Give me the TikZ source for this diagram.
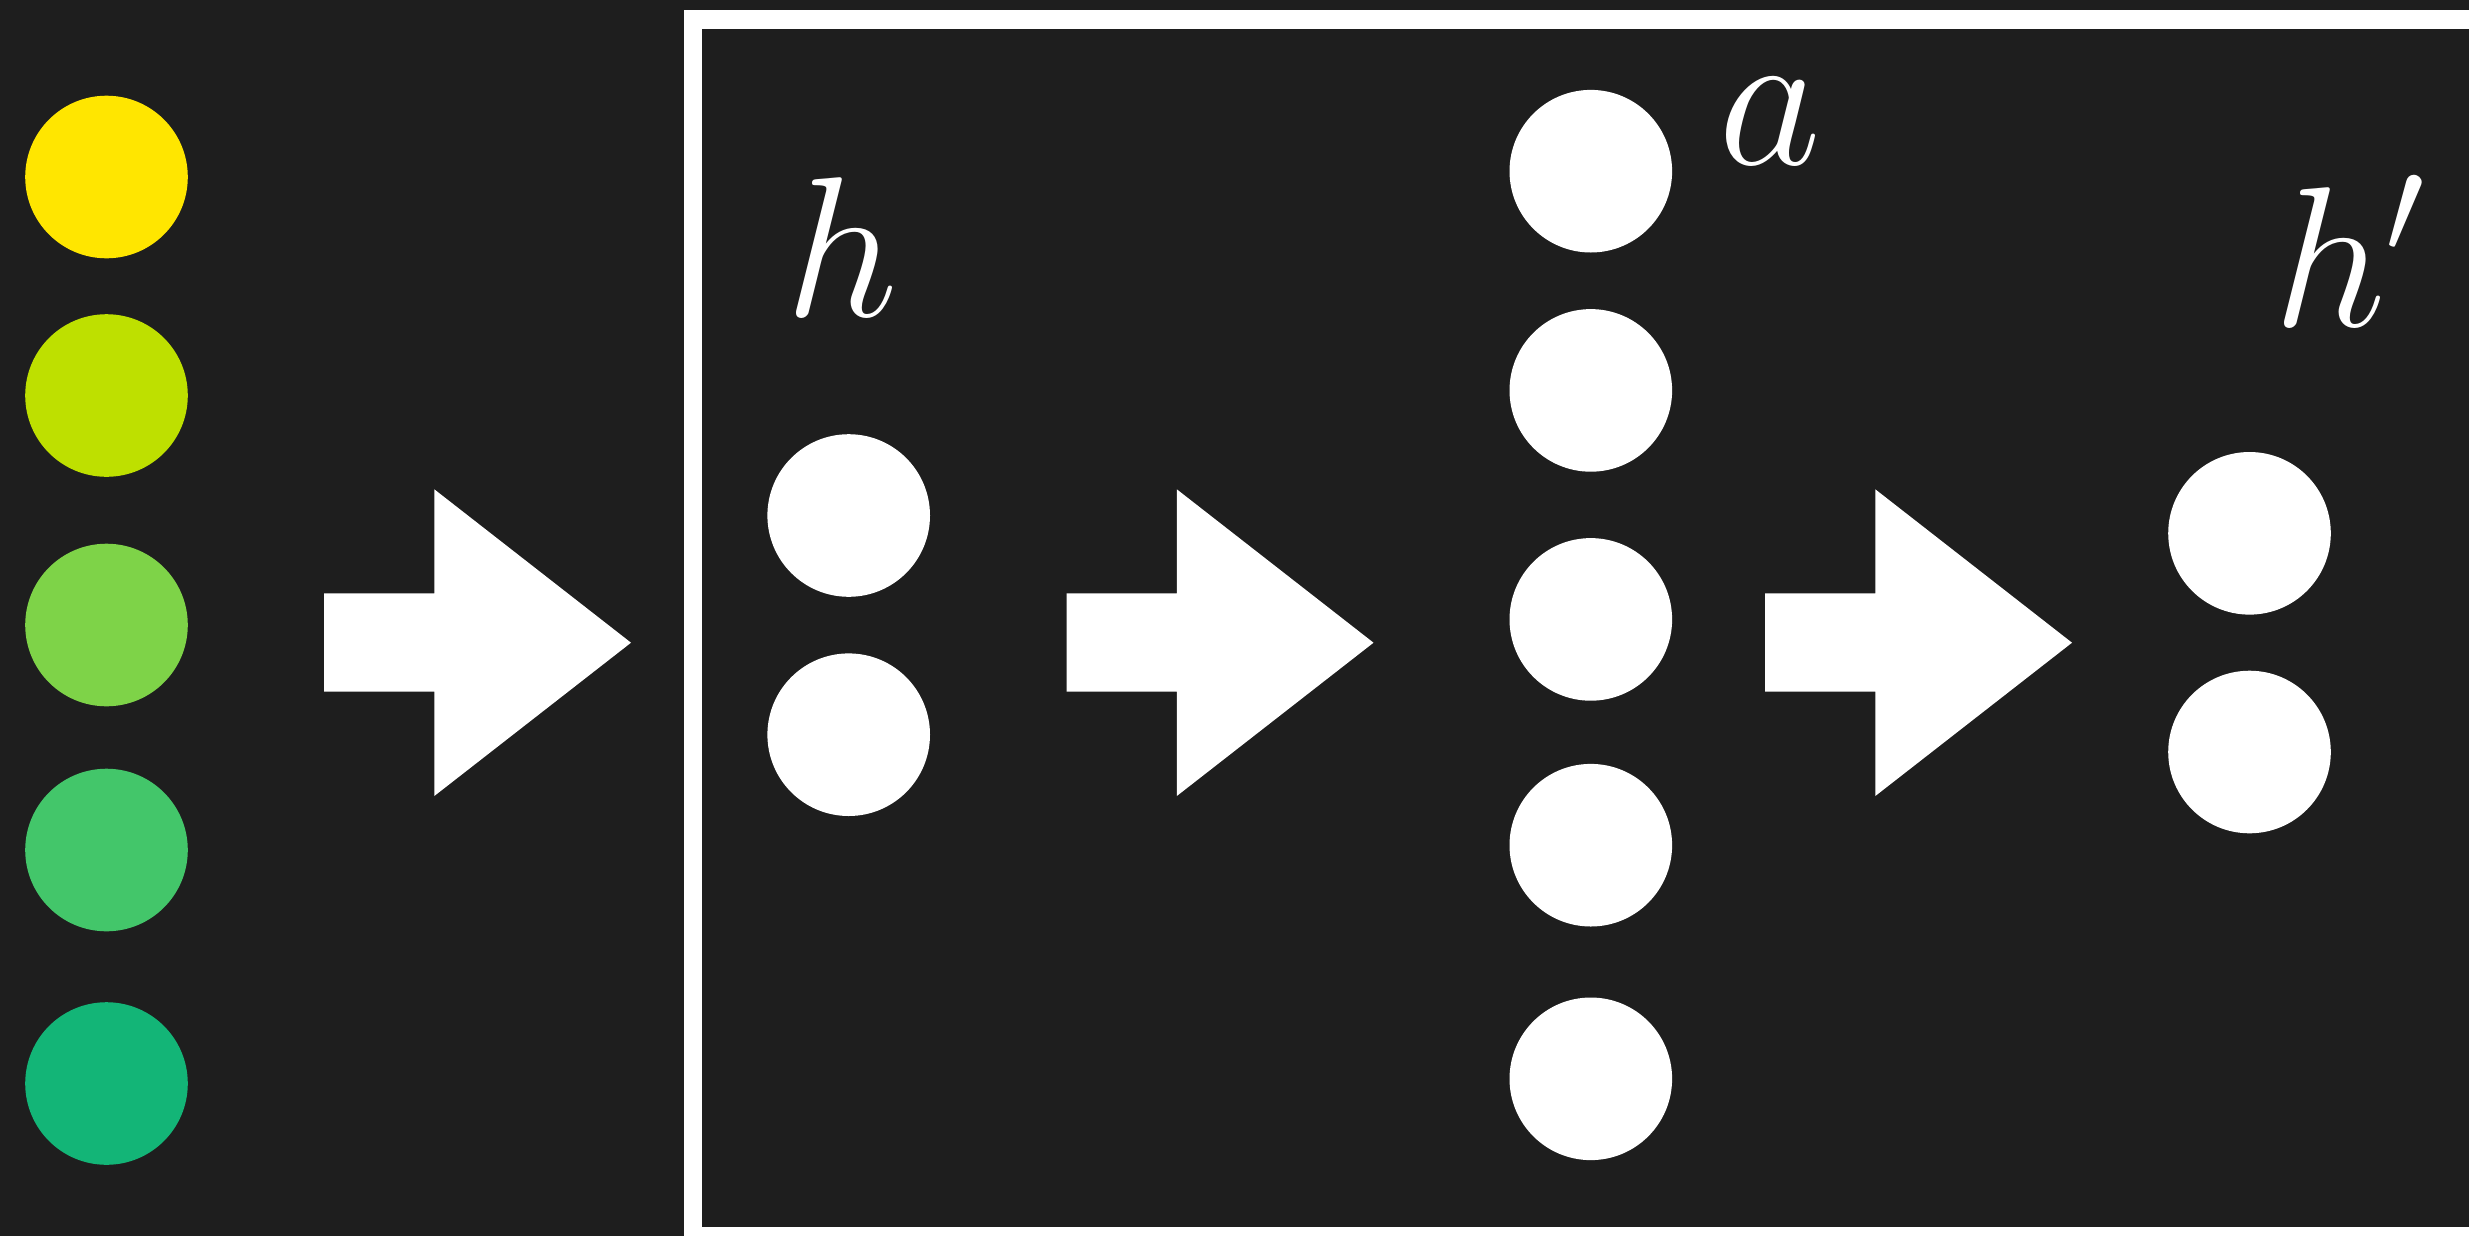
\documentclass[tikz,border=0pt]{standalone}
\usepackage{fix-cm}
\definecolor{bg}{HTML}{1E1E1E}
\definecolor{c1}{HTML}{FFE600}
\definecolor{c2}{HTML}{BEE000}
\definecolor{c3}{HTML}{7ED348}
\definecolor{c4}{HTML}{43C66A}
\definecolor{c5}{HTML}{13B577}
\tikzset{
  dot/.style={circle, fill=white, draw=none, minimum size=162.6pt, inner sep=0pt},
  lbl/.style={text=white, inner sep=0pt, anchor=base, font=\fontsize{200}{200}\selectfont},
  blockarrow/.style={fill=white, draw=none}
}
\begin{document}
\begin{tikzpicture}[x=1pt, y=-1pt]
\useasboundingbox (0,0) rectangle (2469,1235);
\fill[bg] (-10,-10) rectangle (2480,1245);
% frame
\fill[white] (684,10) rectangle (2480,1245);
\fill[bg] (702,29) rectangle (2480,1227);
% input column
\node[dot, fill=c1] (x1) at (106.5,177) {};
\node[dot, fill=c2] (x2) at (106.5,395.5) {};
\node[dot, fill=c3] (x3) at (106.5,625) {};
\node[dot, fill=c4] (x4) at (106.5,850) {};
\node[dot, fill=c5] (x5) at (106.5,1083.5) {};
% h column
\node[dot] (h1) at (848.7,515.5) {};
\node[dot] (h2) at (848.7,734.7) {};
% a column
\node[dot] (a1) at (1590.8,171.2) {};
\node[dot] (a2) at (1590.8,390.4) {};
\node[dot] (a3) at (1590.8,619.4) {};
\node[dot] (a4) at (1590.8,845.2) {};
\node[dot] (a5) at (1590.8,1078.8) {};
% h' column
\node[dot] (hp1) at (2249.5,533.3) {};
\node[dot] (hp2) at (2249.5,752) {};
% labels
\node[lbl] (hlab) at (841.5,316.7) {$h$};
\node[lbl] (alab) at (1769.7,164) {$a$};
\node[lbl, anchor=base west] (hplab) at (2273,326) {$h'$};
% block arrows
\foreach \dx in {0,742.5,1441} {
  \fill[blockarrow] (324+\dx,593.3) -- (434.3+\dx,593.3) -- (434.3+\dx,489.3)
    -- (631+\dx,642.7) -- (434.3+\dx,796) -- (434.3+\dx,691.7) -- (324+\dx,691.7) -- cycle;
}
\end{tikzpicture}
\end{document}
